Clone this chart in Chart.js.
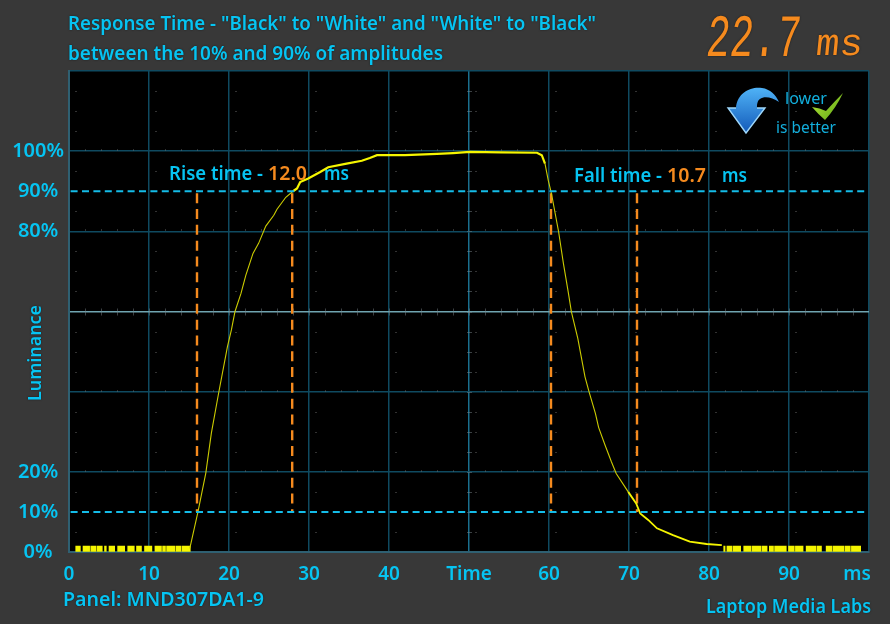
<!DOCTYPE html>
<html>
<head>
<meta charset="utf-8">
<title>Response Time</title>
<script src="https://cdn.jsdelivr.net/npm/chart.js@4"></script>
<style>
  html, body { margin: 0; padding: 0; background: #383838; overflow: hidden; }
  canvas { display: block; }
</style>
</head>
<body>
<canvas id="chart" width="890" height="624"></canvas>
<script>
// values: time in ms, luminance in %
const riseTime = [15.1, 16.1, 17.1, 17.8, 18.7, 19.8, 20.3, 20.75, 21.5, 22.1, 23.0, 23.7, 24.6, 25.6, 26.0, 27.1, 28.0];
const riseLum = [0.9, 9.8, 19.7, 29.7, 39.6, 51.2, 55.4, 60, 64.5, 69, 74.5, 77, 81.3, 84, 85.5, 88.5, 90];
const topTime = [28.0, 28.5, 28.9, 29.9, 31.4, 32.4, 34.7, 36.6, 37.6, 38.5, 42, 46, 48, 50.1, 54, 58.5, 59.1, 59.5];
const topLum = [90, 90.7, 92.3, 93.2, 94.8, 96, 96.9, 97.6, 98.3, 99, 99, 99.3, 99.5, 99.8, 99.7, 99.6, 99, 96.9];
const fallTime = [59.5, 59.9, 60.3, 61.2, 61.8, 62.4, 62.8, 63.6, 64.5, 65, 65.8, 66.2, 67, 67.8, 68.4, 69.9];
const fallLum = [96.9, 92.8, 89.5, 79.9, 72, 64.9, 59.9, 53.3, 43.7, 40, 34.6, 31.1, 26.7, 22.5, 19.6, 15];
const tailTime = [69.9, 70.9, 71.4, 72.4, 73.5, 75.5, 77.6, 79.7, 81.6];
const tailLum = [15, 12.1, 9.6, 8, 5.9, 4.2, 2.6, 2, 1.7];
// noise at the black level, as [from, to] runs in ms
const noiseRuns = [[0.8, 1.46], [1.71, 2.62], [2.68, 3.41], [3.47, 4.2], [4.4, 4.7], [4.96, 5.75], [6.04, 7], [7.3, 8.2], [8.4, 9.1], [9.4, 10.4],
  [10.7, 11.6], [11.66, 12.1], [12.16, 13.3], [13.36, 14], [14.06, 15.2],
  [81.8, 82.05], [82.2, 82.9], [82.96, 84], [84.3, 85.3], [85.36, 86.5], [86.56, 87.3], [87.5, 88.1], [88.16, 89.7], [89.9, 90.7], [90.76, 91.8],
  [92.1, 93.4], [93.46, 94.1], [94.6, 95.4], [95.46, 96.9], [96.96, 97.7], [97.76, 99]];
const noiseLevel = 0.8;

const thresholds = [90, 10];
const riseMarks = [16.0, 27.9];
const fallMarks = [60.25, 71.0];

const xTicks = [0, 10, 20, 30, 40, 50, 60, 70, 80, 90, 98.5, 100];
const xLabels = ['0', '10', '20', '30', '40', 'Time', '60', '70', '80', '90', 'ms', ''];
const yTicks = [0, 10, 20, 40, 60, 80, 90, 100, 120];
const yLabels = ['0%', '10%', '20%', '', '', '80%', '90%', '100%', ''];

const CYAN = '#06c4f2';
const ORANGE = '#f58a1e';
const YELLOW = '#f5f500';
const GRID = '#0f4a60';

function zip(xs, ys) { return xs.map((x, i) => ({ x: x, y: ys[i] })); }

function noisePoints() {
  const pts = [];
  noiseRuns.forEach(r => {
    pts.push({ x: r[0], y: noiseLevel }, { x: r[1], y: noiseLevel }, { x: r[1], y: null });
  });
  return pts;
}

function curve(data, width, color) {
  return { data: data, borderColor: color, borderWidth: width, pointRadius: 0, tension: 0, order: 2, spanGaps: false };
}

const datasets = [
  curve(zip(riseTime, riseLum), 1.1, '#cccc00'),
  curve(zip(topTime, topLum), 2.2, YELLOW),
  curve(zip(fallTime, fallLum), 1.1, '#cccc00'),
  curve(zip(tailTime, tailLum), 1.8, YELLOW),
  Object.assign(curve(noisePoints(), 6, YELLOW), { borderCapStyle: 'butt' })
];
thresholds.forEach(t => {
  datasets.push({ data: [{ x: 0.2, y: t }, { x: 99.7, y: t }], borderColor: '#14bce8', borderWidth: 2, borderDash: [7, 4.4], pointRadius: 0, order: 1 });
});
riseMarks.concat(fallMarks).forEach(m => {
  datasets.push({ data: [{ x: m, y: 89.5 }, { x: m, y: 10 }], borderColor: ORANGE, borderWidth: 2.4, borderDash: [10, 5.8], pointRadius: 0, order: 3 });
});

// text squeezed to the width it has in the picture
function drawFit(ctx, text, x, y, font, color, width) {
  ctx.font = font;
  ctx.fillStyle = color;
  const k = width / ctx.measureText(text).width;
  ctx.save();
  ctx.translate(x, y);
  ctx.scale(k, 1);
  ctx.fillText(text, 0, 0);
  ctx.restore();
}

// scope style minor ticks and dots
function drawMinorTicks(chart) {
  const ctx = chart.ctx, sx = chart.scales.x, sy = chart.scales.y;
  ctx.save();
  ctx.fillStyle = 'rgba(120,130,135,0.5)';
  for (let t = 2; t < 100; t += 2) ctx.fillRect(Math.round(sx.getPixelForValue(t)), sy.getPixelForValue(60) - 3, 1, 7);
  for (let v = 5; v < 120; v += 5) ctx.fillRect(sx.getPixelForValue(50) - 2, Math.round(sy.getPixelForValue(v)), 5, 1);
  ctx.fillStyle = 'rgba(110,110,110,0.45)';
  for (let t = 0.8; t < 100; t += 10) {
    for (let v = 5; v < 120; v += 5) {
      if (v % 20) ctx.fillRect(Math.round(sx.getPixelForValue(t)), Math.round(sy.getPixelForValue(v)), 2, 1);
    }
  }
  [20, 40, 80, 100].forEach(v => {
    for (let t = 2; t < 100; t += 2) {
      if (t % 10) ctx.fillRect(Math.round(sx.getPixelForValue(t)), Math.round(sy.getPixelForValue(v)) - 2, 1, 2);
    }
  });
  ctx.restore();
}

function drawBadge(ctx) {
  ctx.save();
  const blue = ctx.createLinearGradient(0, 88, 0, 134);
  blue.addColorStop(0, '#4fb2f6');
  blue.addColorStop(1, '#1258b8');
  ctx.fillStyle = blue;
  ctx.beginPath();
  ctx.moveTo(736, 108);
  ctx.bezierCurveTo(737, 92, 752, 86, 762, 88);
  ctx.bezierCurveTo(770, 89, 776, 95, 779, 102);
  ctx.bezierCurveTo(772, 97, 764, 96, 760, 99);
  ctx.bezierCurveTo(757, 101, 757, 105, 757, 108);
  ctx.lineTo(765, 108);
  ctx.lineTo(746, 133);
  ctx.lineTo(728, 108);
  ctx.closePath();
  ctx.fill();
  ctx.strokeStyle = '#9fd8fb';
  ctx.lineWidth = 1.4;
  ctx.beginPath();
  ctx.moveTo(736, 108);
  ctx.lineTo(728, 108);
  ctx.lineTo(746, 133);
  ctx.lineTo(765, 108);
  ctx.lineTo(757, 108);
  ctx.stroke();
  const green = ctx.createLinearGradient(812, 93, 843, 119);
  green.addColorStop(0, '#b6e63a');
  green.addColorStop(1, '#5fa814');
  ctx.fillStyle = green;
  ctx.beginPath();
  ctx.moveTo(812, 107);
  ctx.quadraticCurveTo(820, 108, 826, 111);
  ctx.quadraticCurveTo(835, 101, 843, 93);
  ctx.quadraticCurveTo(836, 108, 825, 120);
  ctx.quadraticCurveTo(818, 114, 812, 107);
  ctx.fill();
  ctx.restore();
}

const overlayPlugin = {
  id: 'overlay',
  beforeDraw(chart) {
    const a = chart.chartArea;
    chart.ctx.fillStyle = '#000';
    chart.ctx.fillRect(a.left, a.top, a.right - a.left, a.bottom - a.top);
  },
  beforeDatasetsDraw(chart) {
    const ctx = chart.ctx;
    ctx.save();
    ctx.textAlign = 'left';
    ctx.textBaseline = 'alphabetic';
    drawMinorTicks(chart);
    drawBadge(ctx);

    const font = '600 20px "Noto Sans"';
    drawFit(ctx, 'Rise time -', 169, 180, font, CYAN, 94);
    drawFit(ctx, '12.0', 268, 180, font, ORANGE, 39);
    drawFit(ctx, 'ms', 324, 180, font, CYAN, 25);
    drawFit(ctx, 'Fall time -', 574, 182, font, CYAN, 88);
    drawFit(ctx, '10.7', 667, 182, font, ORANGE, 39);
    drawFit(ctx, 'ms', 722, 182, font, CYAN, 25);
    drawFit(ctx, 'lower', 785, 104, '400 17px "Noto Sans"', '#12aedc', 42);
    drawFit(ctx, 'is better', 776, 133, '400 17px "Noto Sans"', '#12aedc', 60);

    ctx.shadowColor = 'rgba(0,0,0,0.55)';
    ctx.shadowBlur = 2;
    drawFit(ctx, 'Response Time - "Black" to "White" and "White" to "Black"', 68, 30, font, CYAN, 528);
    drawFit(ctx, 'between the 10% and 90% of amplitudes', 68, 60, font, CYAN, 375);
    drawFit(ctx, 'Panel: MND307DA1-9', 63, 606, font, CYAN, 201);
    drawFit(ctx, 'Laptop Media Labs', 706, 613, font, CYAN, 165);

    ctx.save();
    ctx.translate(41, 401);
    ctx.rotate(-Math.PI / 2);
    drawFit(ctx, 'Luminance', 0, 0, '600 18px "Noto Sans"', CYAN, 96);
    ctx.restore();

    // seven segment style readout
    ctx.save();
    ctx.transform(1, 0, -0.1, 1, 705, 56);
    drawFit(ctx, '22.7', 0, 0, '400 60px "Liberation Mono"', ORANGE, 94);
    ctx.restore();
    ctx.save();
    ctx.transform(1, 0, -0.1, 1, 815, 55);
    drawFit(ctx, 'ms', 0, 0, '400 38px "Liberation Mono"', ORANGE, 47);
    ctx.restore();
    ctx.restore();
  }
};

new Chart(document.getElementById('chart'), {
  type: 'line',
  data: { datasets: datasets },
  plugins: [overlayPlugin],
  options: {
    responsive: false,
    animation: false,
    parsing: false,
    normalized: true,
    layout: { padding: { left: 0, right: 21, top: 71, bottom: 0 } },
    plugins: { legend: { display: false }, title: { display: false }, tooltip: { enabled: false } },
    scales: {
      x: {
        type: 'linear',
        min: 0,
        max: 100,
        afterBuildTicks(scale) { scale.ticks = xTicks.map(v => ({ value: v })); },
        afterFit(scale) { scale.height = 72; },
        border: { color: '#2f6072', width: 2 },
        grid: {
          drawTicks: false,
          color: ctx => (ctx.tick && ctx.tick.value === 98.5 ? 'transparent' : (ctx.tick && ctx.tick.value === 50 ? '#1a6f8e' : GRID)),
          lineWidth: 1.5
        },
        ticks: {
          autoSkip: false,
          maxRotation: 0,
          padding: 11,
          color: CYAN,
          font: { family: 'Noto Sans', size: 19, weight: '600' },
          callback: v => xLabels[xTicks.indexOf(v)]
        }
      },
      y: {
        type: 'linear',
        min: 0,
        max: 120,
        afterBuildTicks(scale) { scale.ticks = yTicks.map(v => ({ value: v })); },
        afterFit(scale) { scale.width = 69; },
        border: { color: '#2f6072', width: 2 },
        grid: {
          drawTicks: false,
          color: ctx => {
            const v = ctx.tick && ctx.tick.value;
            if (thresholds.includes(v)) return 'transparent';
            return v === 60 ? '#6fa4b0' : GRID;
          },
          lineWidth: 1.5
        },
        ticks: {
          autoSkip: false,
          crossAlign: 'center',
          padding: 5,
          color: CYAN,
          font: { family: 'Noto Sans', size: 20, weight: '600' },
          callback: v => yLabels[yTicks.indexOf(v)]
        }
      }
    }
  }
});
</script>
</body>
</html>
